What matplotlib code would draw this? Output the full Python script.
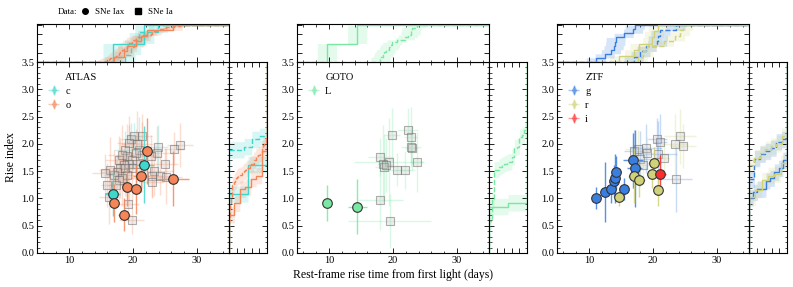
import numpy as np
import matplotlib.pyplot as plt
from matplotlib.lines import Line2D
from matplotlib.ticker import MultipleLocator, NullFormatter

plt.rcParams["font.family"] = "serif"
plt.rcParams["font.serif"] = ["Liberation Serif", "DejaVu Serif"]
plt.rcParams.update({
    "xtick.direction": "in", "ytick.direction": "in",
    "xtick.top": True, "ytick.right": True,
    "xtick.major.size": 3.5, "ytick.major.size": 3.5,
    "xtick.minor.size": 1.8, "ytick.minor.size": 1.8,
    "xtick.major.width": 0.6, "ytick.major.width": 0.6,
    "xtick.minor.width": 0.5, "ytick.minor.width": 0.5,
    "axes.linewidth": 0.8,
    "xtick.labelsize": 7.5, "ytick.labelsize": 7.5,
})

# ============================================================
# Data
# ============================================================
colours = {"c": "#3fd6cc", "o": "#f5865a", "L": "#78e8a2",
           "g": "#3a7fe0", "r": "#d0d27a", "i": "#ff2a2a"}

# ---- ATLAS ----
atlas_iax_o_x = [22.2, 21.2, 26.2, 19.1, 20.5, 17.1, 18.6]
atlas_iax_o_y = [1.87, 1.42, 1.36, 1.21, 1.17, 0.91, 0.70]
atlas_iax_o_xerr = [1.0, 1.2, 2.5, 0.8, 0.8, 0.7, 1.0]
atlas_iax_o_yerr = [0.6, 0.3, 0.5, 0.35, 0.45, 0.35, 0.3]

atlas_iax_c_x = [21.75, 16.8]
atlas_iax_c_y = [1.62, 1.08]
atlas_iax_c_xerr = [1.5, 1.2]
atlas_iax_c_yerr = [0.7, 0.4]

atlas_ia_o_x = [27.36, 26.41, 20.55, 19.35, 17.78, 19.08, 19.87, 20.4, 19.35, 18.56,
                18.04, 17.51, 16.99, 16.47, 15.58, 15.94, 16.2, 25.0, 23.27, 23.0,
                24.16, 25.1, 23.0, 19.87, 19.08, 18.3, 17.78, 17.36, 19.19, 19.77,
                23.8, 22.75, 21.44, 20.4, 18.82, 18.3, 21.4]
atlas_ia_o_y = [1.98, 1.91, 2.00, 2.01, 1.70, 1.77, 1.70, 1.64, 1.64, 1.61,
                1.55, 1.49, 1.43, 1.52, 1.46, 1.25, 1.03, 1.63, 1.50, 1.42,
                1.41, 1.40, 1.30, 1.55, 1.43, 1.37, 1.34, 1.25, 0.89, 0.60,
                1.83, 1.77, 1.80, 1.83, 1.55, 1.80, 2.15]
atlas_ia_o_xerr = [2.0, 1.5, 2.5, 1.8, 2.2, 1.5, 2.0, 2.5, 1.8, 1.2,
                   2.0, 2.5, 1.5, 1.8, 2.0, 1.0, 1.5, 2.0, 3.0, 1.5,
                   2.0, 2.5, 1.8, 1.5, 2.2, 2.0, 1.6, 1.4, 1.8, 2.0,
                   2.4, 1.6, 2.0, 1.5, 1.8, 2.2, 1.5]
atlas_ia_o_yerr = [0.4, 0.3, 0.6, 0.5, 0.45, 0.6, 0.35, 0.5, 0.7, 0.4,
                   0.55, 0.3, 0.45, 0.6, 0.35, 0.4, 0.5, 0.3, 0.45, 0.4,
                   0.35, 0.5, 0.3, 0.6, 0.4, 0.5, 0.35, 0.45, 0.3, 0.25,
                   0.5, 0.4, 0.6, 0.45, 0.5, 0.55, 0.4]

atlas_ia_c_x = [19.7, 20.13, 18.82, 20.9, 23.9]
atlas_ia_c_y = [2.08, 2.14, 1.89, 1.89, 1.95]
atlas_ia_c_xerr = [1.5, 1.2, 1.8, 1.0, 1.5]
atlas_ia_c_yerr = [0.3, 0.25, 0.35, 0.6, 0.4]

# ---- GOTO ----
goto_iax_L_x = [9.66, 14.42]
goto_iax_L_y = [0.92, 0.85]
goto_iax_L_xerr = [0.3, 1.5]
goto_iax_L_yerr = [0.33, 0.5]

goto_ia_L_x = [22.33, 22.75, 19.87, 22.9, 22.8, 18.04, 19.35, 18.45, 18.66, 18.9,
               20.55, 21.86, 23.69, 18.04, 19.5]
goto_ia_L_y = [2.25, 2.12, 2.16, 1.93, 1.95, 1.76, 1.67, 1.64, 1.58, 1.61,
               1.53, 1.52, 1.66, 0.97, 0.59]
goto_ia_L_xerr = [1.5, 1.0, 1.2, 1.0, 1.5, 2.0, 5.5, 1.0, 1.5, 1.0,
                  2.0, 1.5, 1.0, 3.5, 6.5]
goto_ia_L_yerr = [0.4, 0.55, 0.5, 0.4, 0.3, 0.35, 0.8, 0.7, 0.6, 0.5,
                  0.3, 0.35, 0.55, 0.55, 0.5]

# ---- ZTF ----
ztf_iax_g_x = [11.07, 12.45, 13.43, 13.84, 14.1, 14.16, 15.41, 16.88, 17.14]
ztf_iax_g_y = [1.01, 1.11, 1.17, 1.32, 1.37, 1.48, 1.17, 1.70, 1.55]
ztf_iax_g_xerr = [0.5, 0.8, 0.8, 0.6, 0.7, 0.8, 0.6, 1.5, 1.2]
ztf_iax_g_yerr = [0.2, 0.55, 0.25, 0.3, 0.45, 0.3, 0.2, 0.5, 0.7]

ztf_iax_r_x = [14.68, 17.04, 17.88, 19.87, 20.18, 20.8]
ztf_iax_r_y = [1.02, 1.42, 1.33, 1.44, 1.65, 1.16]
ztf_iax_r_xerr = [0.6, 1.0, 0.8, 0.8, 1.0, 0.6]
ztf_iax_r_yerr = [0.15, 0.5, 0.3, 0.25, 0.3, 0.3]

ztf_iax_i_x = [21.17]
ztf_iax_i_y = [1.45]
ztf_iax_i_xerr = [0.8]
ztf_iax_i_yerr = [0.35]

ztf_ia_g_x = [20.65, 16.99, 18.98, 20.76, 18.03, 23.53, 21.17]
ztf_ia_g_y = [2.08, 1.86, 1.92, 1.81, 1.73, 1.35, 2.04]
ztf_ia_g_xerr = [1.5, 1.5, 2.5, 3.0, 2.0, 2.5, 1.0]
ztf_ia_g_yerr = [0.4, 0.4, 0.45, 0.6, 0.5, 0.6, 0.5]

ztf_ia_r_x = [24.21, 23.43, 24.68, 17.61, 19.08, 21.7, 18.45]
ztf_ia_r_y = [2.14, 2.0, 1.96, 1.90, 1.83, 1.75, 1.61]
ztf_ia_r_xerr = [2.5, 2.0, 2.0, 2.0, 1.5, 1.0, 1.5]
ztf_ia_r_yerr = [0.5, 0.55, 0.4, 0.35, 0.3, 0.3, 0.35]

panels = [
    ("ATLAS", ["c", "o"],
     {"c": (atlas_iax_c_x, atlas_iax_c_y, atlas_iax_c_xerr, atlas_iax_c_yerr),
      "o": (atlas_iax_o_x, atlas_iax_o_y, atlas_iax_o_xerr, atlas_iax_o_yerr)},
     {"c": (atlas_ia_c_x, atlas_ia_c_y, atlas_ia_c_xerr, atlas_ia_c_yerr),
      "o": (atlas_ia_o_x, atlas_ia_o_y, atlas_ia_o_xerr, atlas_ia_o_yerr)}),
    ("GOTO", ["L"],
     {"L": (goto_iax_L_x, goto_iax_L_y, goto_iax_L_xerr, goto_iax_L_yerr)},
     {"L": (goto_ia_L_x, goto_ia_L_y, goto_ia_L_xerr, goto_ia_L_yerr)}),
    ("ZTF", ["g", "r", "i"],
     {"g": (ztf_iax_g_x, ztf_iax_g_y, ztf_iax_g_xerr, ztf_iax_g_yerr),
      "r": (ztf_iax_r_x, ztf_iax_r_y, ztf_iax_r_xerr, ztf_iax_r_yerr),
      "i": (ztf_iax_i_x, ztf_iax_i_y, ztf_iax_i_xerr, ztf_iax_i_yerr)},
     {"g": (ztf_ia_g_x, ztf_ia_g_y, ztf_ia_g_xerr, ztf_ia_g_yerr),
      "r": (ztf_ia_r_x, ztf_ia_r_y, ztf_ia_r_xerr, ztf_ia_r_yerr)}),
]

xlim = (5, 35)
ylim = (0, 3.5)


def ecdf_steps(vals, lo, hi):
    v = np.sort(vals)
    n = len(v)
    xs, ys = [lo], [0.0]
    for k, vk in enumerate(v):
        xs += [vk, vk]
        ys += [k / n, (k + 1) / n]
    xs.append(hi)
    ys.append(1.0)
    return np.array(xs), np.array(ys)


def ecdf_eval(vals, grid):
    v = np.sort(vals)
    return np.searchsorted(v, grid, side="right") / len(v)


# ============================================================
# Figure
# ============================================================
W, H = 793, 287
fig = plt.figure(figsize=(W / 100, H / 100), dpi=100)


def fa(x0, y0, x1, y1):
    return [x0 / W, 1 - y1 / H, (x1 - x0) / W, (y1 - y0) / H]


main_left = [37, 297, 557]
pw = 192
mw = 38
top_y0, main_y0, main_y1 = 24, 62, 253

for p, (name, filts, iax, ia) in enumerate(panels):
    x0 = main_left[p]
    ax = fig.add_axes(fa(x0, main_y0, x0 + pw, main_y1))
    axt = fig.add_axes(fa(x0, top_y0, x0 + pw, main_y0))
    axr = fig.add_axes(fa(x0 + pw, main_y0, x0 + pw + mw, main_y1))

    # Ia squares
    for f in filts:
        if f not in ia:
            continue
        x, y, xe, ye = ia[f]
        ax.errorbar(x, y, xerr=xe, yerr=ye, fmt="none", ecolor=colours[f],
                    alpha=0.28, lw=1.0, zorder=1)
        ax.scatter(x, y, marker="s", s=30, facecolor=(0.78, 0.78, 0.78, 0.3),
                   edgecolor=(0.4, 0.4, 0.4, 0.5), lw=0.8, zorder=2)
    # Iax circles
    for f in filts:
        x, y, xe, ye = iax[f]
        ax.errorbar(x, y, xerr=xe, yerr=ye, fmt="none", ecolor=colours[f],
                    alpha=0.85, lw=1.0, zorder=3)
        ax.scatter(x, y, marker="o", s=48, facecolor=colours[f],
                   edgecolor="#333333", lw=0.8, zorder=4)

    # marginal CDFs (only for filters with more than one object)
    grid_x = np.linspace(xlim[0], xlim[1], 800)
    grid_y = np.linspace(ylim[0], ylim[1], 800)
    for f in filts:
        for sample, ls in ((iax, "-"), (ia, "--")):
            if f not in sample or len(sample[f][0]) < 2:
                continue
            x, y = sample[f][0], sample[f][1]
            col = colours[f]
            sx, sy = ecdf_steps(x, xlim[0], xlim[1])
            axt.plot(sx, sy, color=col, ls=ls, lw=1.0)
            axt.fill_between(grid_x, ecdf_eval(x, grid_x - 1.5),
                             ecdf_eval(x, grid_x + 1.5), color=col,
                             alpha=0.2, lw=0)
            ry, rx = ecdf_steps(y, ylim[0], ylim[1])
            axr.plot(rx, ry, color=col, ls=ls, lw=1.0)
            axr.fill_betweenx(grid_y, ecdf_eval(y, grid_y - 0.15),
                              ecdf_eval(y, grid_y + 0.15), color=col,
                              alpha=0.2, lw=0)

    ax.set_xlim(xlim)
    ax.set_ylim(ylim)
    ax.xaxis.set_major_locator(MultipleLocator(10))
    ax.xaxis.set_minor_locator(MultipleLocator(2))
    ax.yaxis.set_major_locator(MultipleLocator(0.5))
    ax.yaxis.set_minor_locator(MultipleLocator(0.1))
    ax.yaxis.set_major_formatter(plt.FormatStrFormatter("%.1f"))
    ax.tick_params(pad=2)

    axt.set_xlim(xlim)
    axt.set_ylim(0, 1.03)
    axt.xaxis.set_major_locator(MultipleLocator(10))
    axt.xaxis.set_minor_locator(MultipleLocator(2))
    axt.yaxis.set_major_locator(MultipleLocator(0.25))
    axt.xaxis.set_major_formatter(NullFormatter())
    axt.yaxis.set_major_formatter(NullFormatter())

    axr.set_ylim(ylim)
    axr.set_xlim(0, 1.0)
    axr.xaxis.set_major_locator(MultipleLocator(0.2))
    axr.yaxis.set_major_locator(MultipleLocator(0.5))
    axr.yaxis.set_minor_locator(MultipleLocator(0.1))
    axr.xaxis.set_major_formatter(NullFormatter())
    axr.yaxis.set_major_formatter(NullFormatter())

    # legend with the survey name as first entry
    handles = [Line2D([], [], ls="none")]
    labels = [name]
    for f in filts:
        h = ax.errorbar([np.nan], [np.nan], xerr=[1], yerr=[1], fmt="d",
                        color=colours[f], alpha=0.45, ms=4, lw=1)
        handles.append(h)
        labels.append(f)
    ax.legend(handles, labels, loc="upper left", frameon=False, fontsize=7.5,
              handlelength=1.2, handletextpad=0.5, labelspacing=0.45,
              borderaxespad=0.6)

    if p == 0:
        ax.set_ylabel("Rise index", fontsize=8.5, labelpad=3)
    if p == 1:
        ax.set_xlabel("Rest-frame rise time from first light (days)",
                      fontsize=8.5, labelpad=3)

# top "Data" legend
fig.text(58 / W, 1 - 12 / H, "Data:", fontsize=6.5, va="center", ha="left")
dh = [Line2D([], [], ls="none", marker="o", color="k", ms=4),
      Line2D([], [], ls="none", marker="s", color="k", ms=4)]
fig.legend(dh, ["SNe Iax", "SNe Ia"], loc="center left",
           bbox_to_anchor=(80 / W, 1 - 12 / H), ncol=2, frameon=False,
           fontsize=6.5, handlelength=1.2, handletextpad=0.5, columnspacing=0.9,
           borderaxespad=0, borderpad=0)

fig.savefig("out.png", dpi=100)
